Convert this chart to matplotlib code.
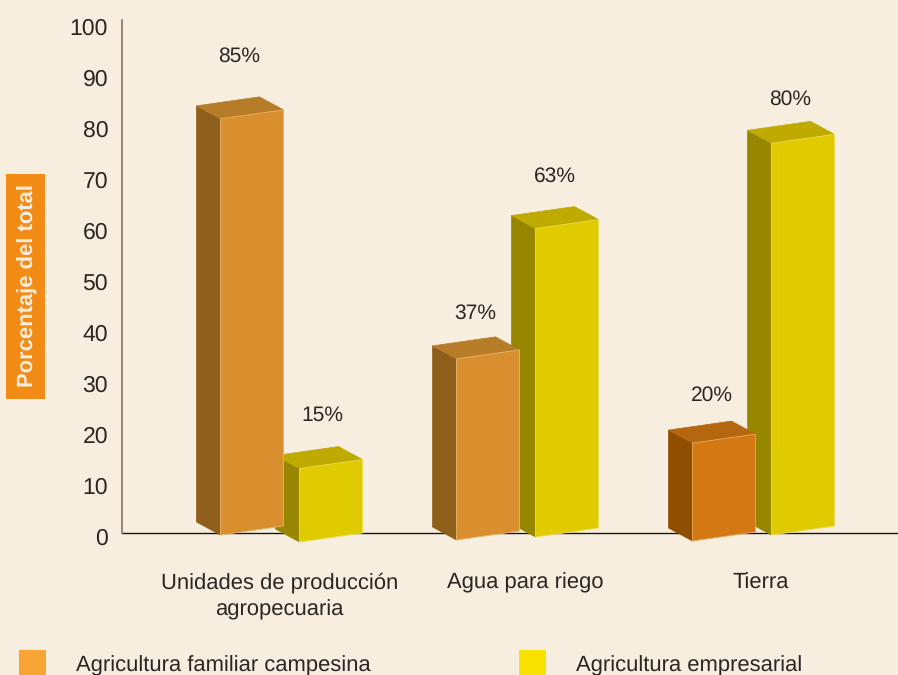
import matplotlib
matplotlib.use('Agg')
import matplotlib.pyplot as plt
from matplotlib.patches import Polygon, Rectangle

plt.rcParams['font.family'] = ['Liberation Sans', 'DejaVu Sans']
plt.rcParams['text.hinting'] = 'none'
plt.rcParams['text.hinting_factor'] = 1

categories = ['Unidades de producción\nagropecuaria', 'Agua para riego', 'Tierra']
familiar = [85, 37, 20]
empresarial = [15, 63, 80]
y_ticks = [0, 10, 20, 30, 40, 50, 60, 70, 80, 90, 100]

W, H = 898, 675
BG = '#F7EEDF'
INK = '#2B2622'

# colours: front, left side, top, edge
ORANGE = ('#D98F2E', '#8F5E1A', '#B67C28', '#E8B36A')
DARK_ORANGE = ('#D47813', '#8F4E00', '#B5670F', '#E8A860')
YELLOW = ('#E0CA00', '#968600', '#BFAA00', '#EBDC50')

# the drawing is not quite to scale with the axis, it is a 3d picture
BAR_SCALE = 0.96
# how far each bar's front corner hangs below the baseline, pixels
drop_familiar = [2, 7, 8]
drop_empresarial = [9, 4, 2]
# gap between the top of the bar and its label, pixels
gap_familiar = [40, 23, 26]
gap_empresarial = [31, 30, 22]
dx_empresarial = [23, 19, 19]
# category label centre, pixels right of the group's first front corner
label_dx = [59, 69, 68]

PX_PER_GROUP = 236.0
PX_PER_UNIT = 5.1
FRONT_W = 63 / PX_PER_GROUP
SLANT = 9 / PX_PER_UNIT
SIDE_X = 24 / PX_PER_GROUP
SIDE_Y = 13 / PX_PER_UNIT
EMP_OFFSET = 79 / PX_PER_GROUP
ZERO_LINE = 3 / PX_PER_UNIT

fig = plt.figure(figsize=(W / 100, H / 100), dpi=100, facecolor=BG)
# axes 122..898 px across, 20..560 px down
ax = fig.add_axes([122 / W, 1 - 560 / H, (898 - 122) / W, (560 - 20) / H], facecolor='none')
ax.set_xlim((122 - 220.5) / PX_PER_GROUP, (898 - 220.5) / PX_PER_GROUP)
ax.set_ylim((536 - 560) / PX_PER_UNIT, (536 - 20) / PX_PER_UNIT)


def bar3d(x, value, drop, colors, z):
    front, side, top, edge = colors
    y0 = ZERO_LINE - drop / PX_PER_UNIT
    y1 = y0 + value * BAR_SCALE
    xr = x + FRONT_W
    ax.add_patch(Polygon([(x, y0), (x - SIDE_X, y0 + SIDE_Y), (x - SIDE_X, y1 + SIDE_Y), (x, y1)],
                         closed=True, facecolor=side, edgecolor=side, lw=0.5, zorder=z))
    ax.add_patch(Polygon([(x, y1), (x - SIDE_X, y1 + SIDE_Y), (xr - SIDE_X, y1 + SIDE_Y + SLANT), (xr, y1 + SLANT)],
                         closed=True, facecolor=top, edgecolor=top, lw=0.5, zorder=z))
    ax.add_patch(Polygon([(x, y0), (xr, y0 + SLANT), (xr, y1 + SLANT), (x, y1)],
                         closed=True, facecolor=front, edgecolor=edge, lw=0.6, zorder=z + 0.1))
    return y1 + SIDE_Y + SLANT


for i in range(len(categories)):
    x_f = i
    x_e = i + EMP_OFFSET
    # yellow goes first, the orange bar stands in front of it
    top_e = bar3d(x_e, empresarial[i], drop_empresarial[i], YELLOW, 3)
    fam_colors = DARK_ORANGE if i == 2 else ORANGE
    top_f = bar3d(x_f, familiar[i], drop_familiar[i], fam_colors, 4)
    ax.text(x_f + 19 / PX_PER_GROUP, top_f + gap_familiar[i] / PX_PER_UNIT, f'{familiar[i]}%',
            ha='center', va='center', fontsize=14.8, color=INK)
    ax.text(x_e + dx_empresarial[i] / PX_PER_GROUP, top_e + gap_empresarial[i] / PX_PER_UNIT, f'{empresarial[i]}%',
            ha='center', va='center', fontsize=14.8, color=INK)

for s in ['top', 'right']:
    ax.spines[s].set_visible(False)
ax.spines['bottom'].set_position(('data', ZERO_LINE))
ax.spines['bottom'].set_color('#1A1512')
ax.spines['bottom'].set_linewidth(1.0)
ax.spines['bottom'].set_zorder(1)
ax.spines['left'].set_bounds(ZERO_LINE, (536 - 20) / PX_PER_UNIT)
ax.spines['left'].set_color('#8C7F72')
ax.spines['left'].set_linewidth(1.3)

ax.set_yticks(y_ticks)
ax.tick_params(axis='y', length=0, pad=10, labelsize=16.6, labelcolor=INK)
ax.set_xticks([i + label_dx[i] / PX_PER_GROUP for i in range(len(categories))])
ax.set_xticklabels(categories, linespacing=1.4)
ax.tick_params(axis='x', length=0, pad=28.5, labelsize=15.7, labelcolor=INK)

# y title on its orange box
fig.add_artist(Rectangle((6 / W, 1 - 399 / H), 39 / W, 225 / H, transform=fig.transFigure,
                         facecolor='#F38B17', edgecolor='none'))
fig.text(28 / W, 1 - 286 / H, 'Porcentaje del total', rotation=90, ha='center', va='center',
         color='#F7EEDF', fontsize=15.5, fontweight='bold')

# legend runs off the bottom edge in the original
fig.add_artist(Rectangle((19 / W, 0), 27 / W, 25 / H, transform=fig.transFigure,
                         facecolor='#F9A535', edgecolor='none'))
fig.add_artist(Rectangle((519 / W, 0), 27 / W, 25 / H, transform=fig.transFigure,
                         facecolor='#F9E200', edgecolor='none'))
fig.text(76 / W, 1 - 665.5 / H, 'Agricultura familiar campesina', ha='left', va='center', fontsize=15.6, color=INK)
fig.text(576 / W, 1 - 665.5 / H, 'Agricultura empresarial', ha='left', va='center', fontsize=16.2, color=INK)

plt.savefig('out.png', dpi=100, facecolor=BG)
plt.close()
